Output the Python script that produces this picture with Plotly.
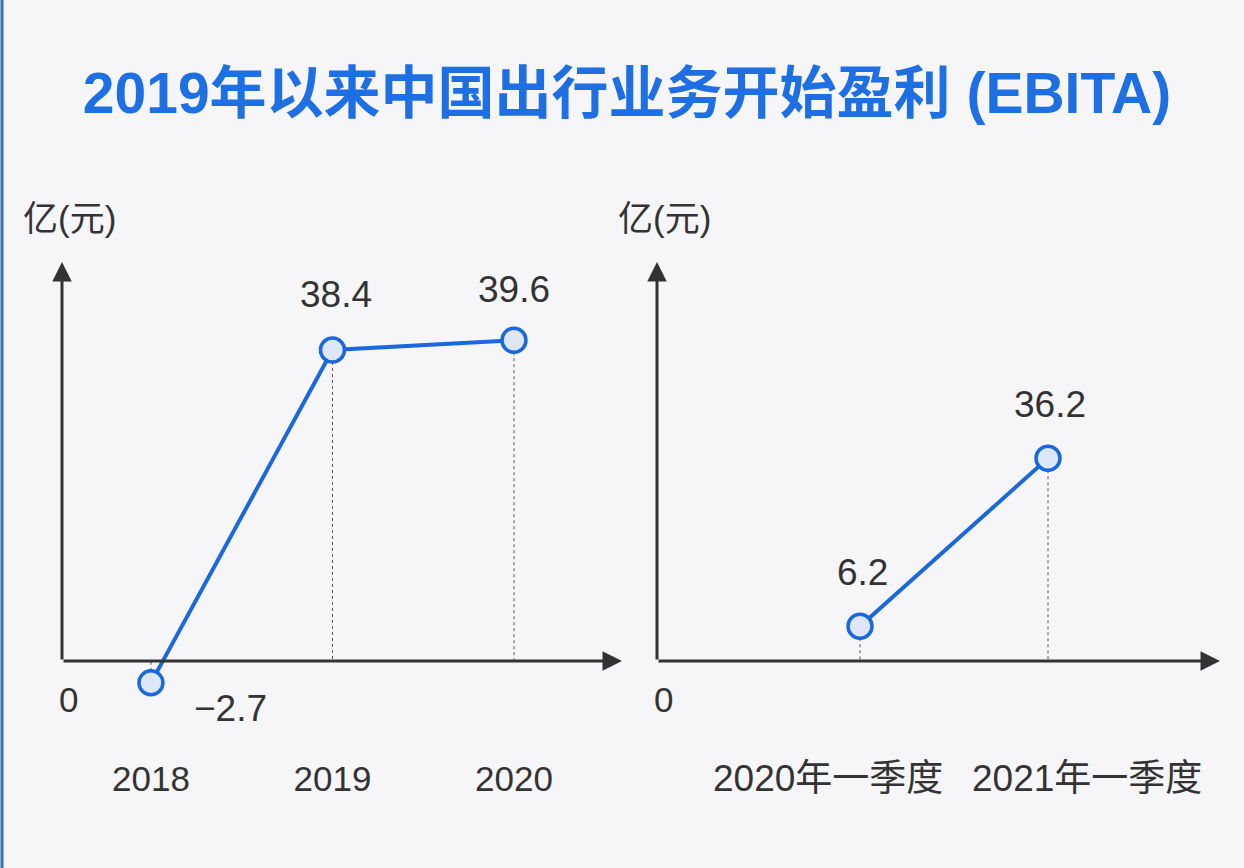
import plotly.graph_objects as go

# ---- data ----
title_text = "2019年以来中国出行业务开始盈利 (EBITA)"
unit_label = "亿(元)"
years = ["2018", "2019", "2020"]
year_values = [-2.7, 38.4, 39.6]
quarters = ["2020年一季度", "2021年一季度"]
quarter_values = [6.2, 36.2]

# ---- style ----
W, H = 1244, 868
BG = "#f6f6f8"
BLUE = "#1a68dc"
TITLE_BLUE = "#1d6fe3"
FILL = "#dde7f7"
DARK = "#333333"
FONT = "Liberation Sans, Arial, Noto Sans CJK SC, sans-serif"

def px_x(p):
    return p / W

def px_y(p):
    return 1 - p / H

top_px, bot_px, zero_px = 262, 755, 661
k_left, k_right = 8.1, 5.6

fig = go.Figure()

def drop_lines(xvals, vals, xa, ya):
    xs, ys = [], []
    for c, v in zip(xvals, vals):
        xs += [c, c, None]
        ys += [v, 0, None]
    fig.add_trace(go.Scatter(x=xs, y=ys, mode="lines", xaxis=xa, yaxis=ya,
                             line=dict(color="#555555", width=1, dash="3px,3px"),
                             hoverinfo="skip", showlegend=False))

year_idx = list(range(len(years)))
quarter_idx = list(range(len(quarters)))

drop_lines(year_idx, year_values, "x", "y")
drop_lines(quarter_idx, quarter_values, "x2", "y2")

for xv, vals, xa, ya in [(year_idx, year_values, "x", "y"), (quarter_idx, quarter_values, "x2", "y2")]:
    fig.add_trace(go.Scatter(x=xv, y=vals, mode="lines+markers", xaxis=xa, yaxis=ya,
                             line=dict(color=BLUE, width=4),
                             marker=dict(size=24, color=FILL, line=dict(color=BLUE, width=3.5)),
                             showlegend=False, cliponaxis=False))

ydom = [px_y(bot_px), px_y(top_px)]
fig.update_layout(
    width=W, height=H,
    margin=dict(l=0, r=0, t=0, b=0),
    paper_bgcolor=BG, plot_bgcolor=BG,
    font=dict(family=FONT, color=DARK, size=36),
    title=dict(text=title_text, x=627 / W, xanchor="center", y=px_y(93), yanchor="middle",
               font=dict(family=FONT, size=57, color=TITLE_BLUE, weight="bold")),
    xaxis=dict(domain=[px_x(62), px_x(622)], range=[-0.49, 2.595],
               tickmode="array", tickvals=year_idx, ticktext=years,
               showgrid=False, zeroline=False, showline=False, ticks="",
               tickfont=dict(size=35, color=DARK), anchor="y"),
    yaxis=dict(domain=ydom, range=[(zero_px - bot_px) / k_left, (zero_px - top_px) / k_left],
               showgrid=False, zeroline=False, showline=False, showticklabels=False, anchor="x"),
    xaxis2=dict(domain=[px_x(657), px_x(1220)], range=[-1.080, 1.915],
                showgrid=False, zeroline=False, showline=False, showticklabels=False, anchor="y2"),
    yaxis2=dict(domain=ydom, range=[(zero_px - bot_px) / k_right, (zero_px - top_px) / k_right],
                showgrid=False, zeroline=False, showline=False, showticklabels=False, anchor="x2"),
)

ann = []
# axis arrows
for xr, yr, width_px in [("x", "y", 560), ("x2", "y2", 563)]:
    ann.append(dict(x=1, xref=f"{xr} domain", y=0, yref=yr, ax=-width_px, ay=0,
                    axref="pixel", ayref="pixel", text="", showarrow=True,
                    arrowhead=2, arrowsize=1.3, arrowwidth=3, arrowcolor=DARK))
    ann.append(dict(x=0, xref=f"{xr} domain", y=1, yref=f"{yr} domain", ax=0, ay=zero_px - top_px,
                    axref="pixel", ayref="pixel", text="", showarrow=True,
                    arrowhead=2, arrowsize=1.3, arrowwidth=3, arrowcolor=DARK))
    # unit label
    ann.append(dict(x=0, xref=f"{xr} domain", y=1, yref=f"{yr} domain", xanchor="left",
                    yanchor="middle", xshift=-41, yshift=44, text=unit_label, showarrow=False,
                    font=dict(size=35, color=DARK)))
    # zero label
    ann.append(dict(x=0, xref=f"{xr} domain", y=0, yref=yr, xanchor="left", yanchor="middle",
                    xshift=-5, yshift=-38, text="0", showarrow=False,
                    font=dict(size=35, color=DARK)))

# value labels
left_shifts = [(80, -26), (4, 55), (0, 51)]
for i, v, (dx, dy) in zip(year_idx, year_values, left_shifts):
    ann.append(dict(x=i, y=v, xref="x", yref="y", xshift=dx, yshift=dy,
                    text=("\u2212" + f"{abs(v)}") if v < 0 else f"{v}",
                    showarrow=False, font=dict(size=37, color=DARK)))
for i, v in zip(quarter_idx, quarter_values):
    ann.append(dict(x=i, y=v, xref="x2", yref="y2", xshift=2, yshift=54,
                    text=f"{v}", showarrow=False, font=dict(size=37, color=DARK)))

# quarter category labels
for i, c, dx in zip(quarter_idx, quarters, [-32, 39]):
    ann.append(dict(x=i, xref="x2", y=0, yref="y2 domain", yanchor="middle", yshift=-23,
                    xshift=dx, text=c, showarrow=False, font=dict(size=37, color=DARK)))

fig.update_layout(annotations=ann)

# left blue edge
fig.add_shape(type="line", xref="paper", yref="paper", x0=px_x(2), x1=px_x(2), y0=0, y1=1,
              line=dict(color="#3a6fa8", width=3))

fig.write_html("out.html", config={"displayModeBar": False},
               post_script="document.body.style.margin='0';document.body.style.overflow='hidden';")
